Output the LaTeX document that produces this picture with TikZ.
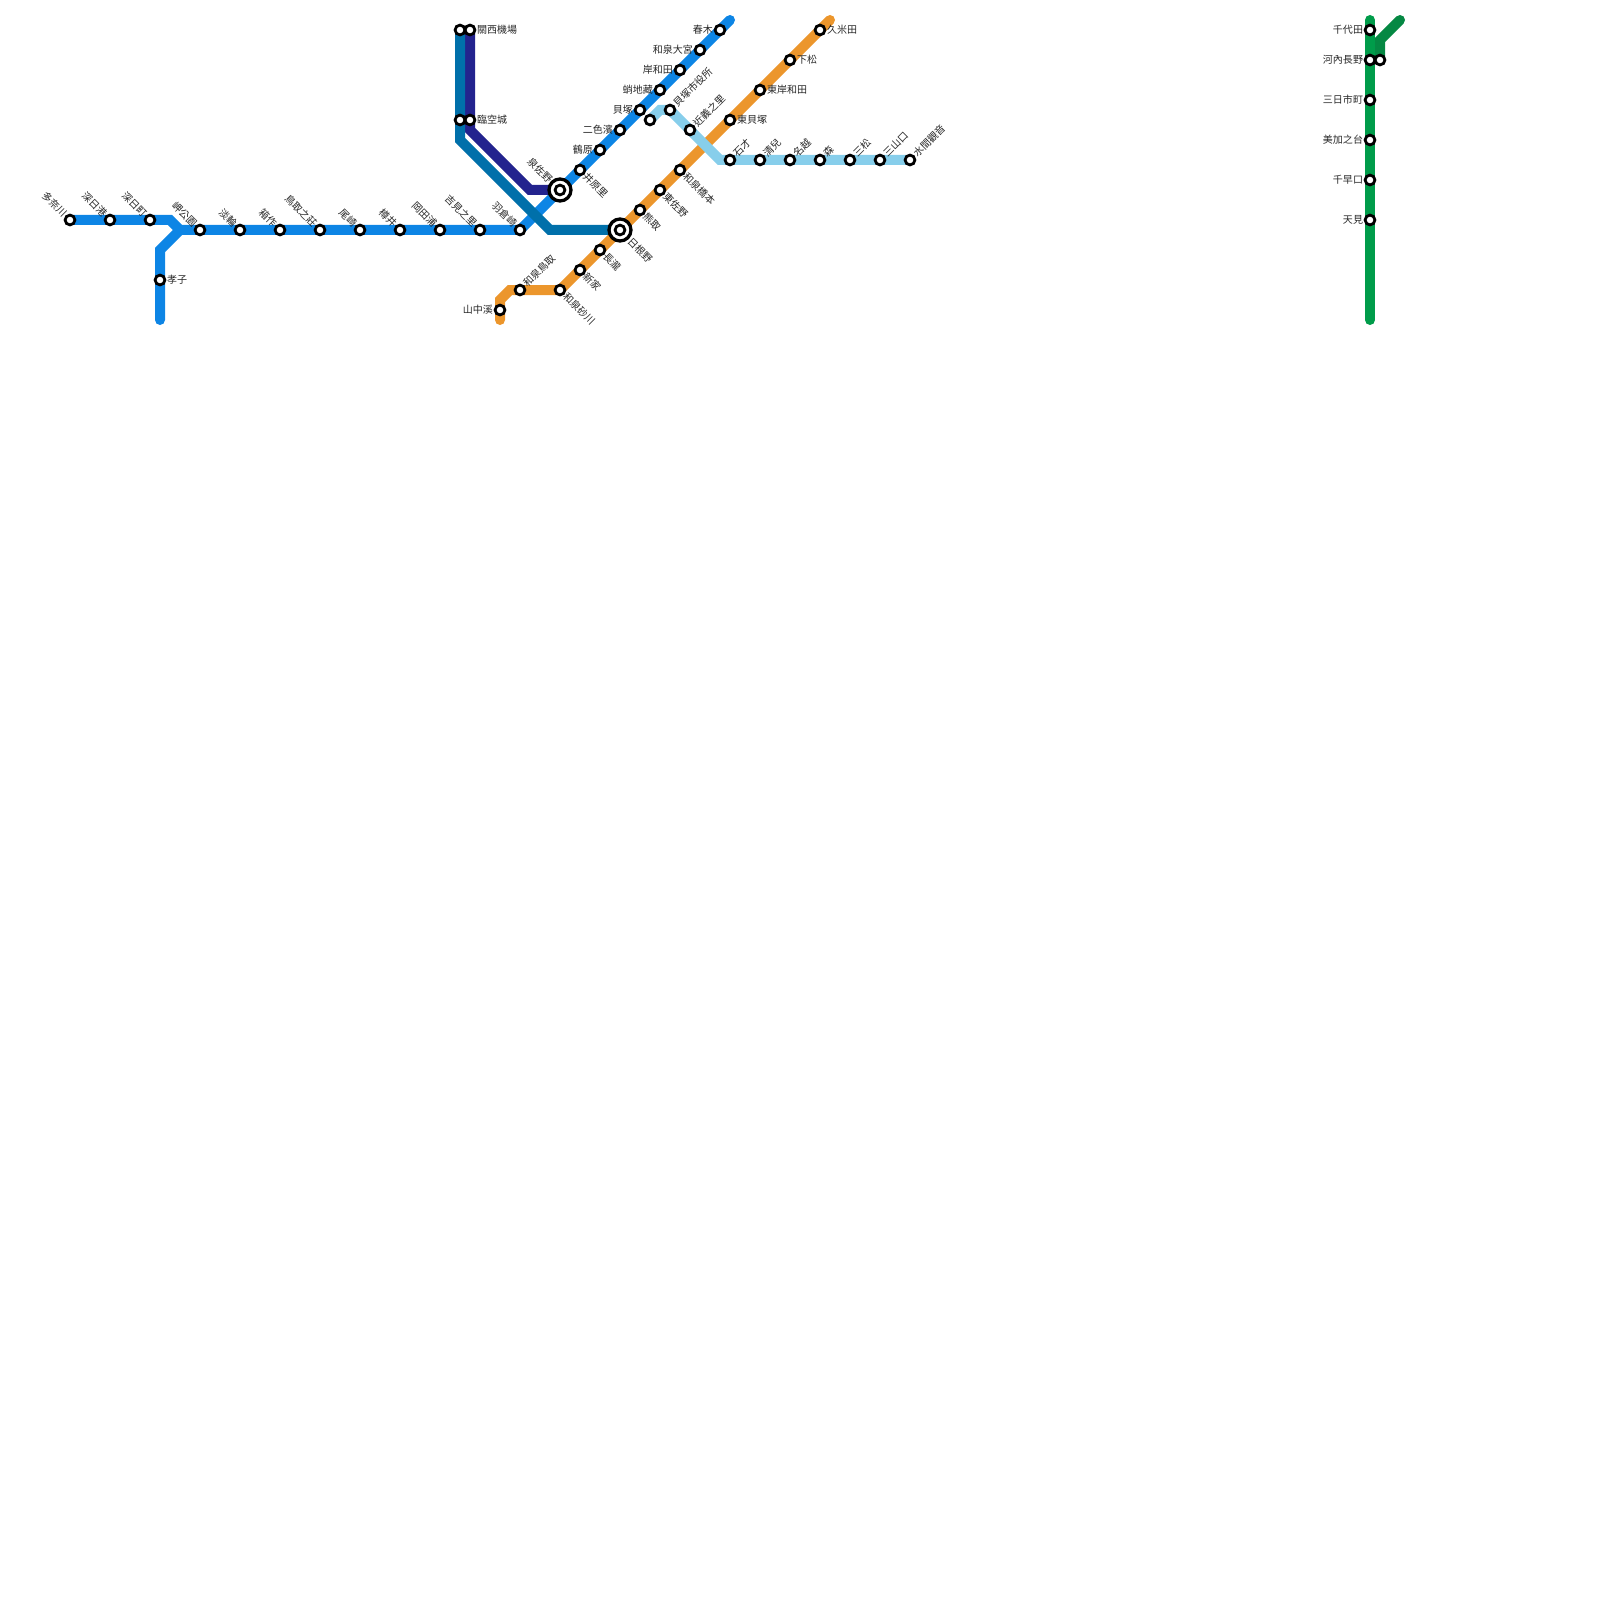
\documentclass[tikz,border=0pt]{standalone}
\usepackage{fontspec}
\setmainfont{Noto Sans CJK TC}
\usetikzlibrary{backgrounds}
\definecolor{nankaiblue}{HTML}{0D85E5}
\definecolor{airportblue}{HTML}{0070AA}
\definecolor{rapitnavy}{HTML}{23238E}
\definecolor{hanwaorange}{HTML}{EC962C}
\definecolor{mizuma}{HTML}{87CEEB}
\definecolor{koyagreen}{HTML}{009C4A}
\definecolor{koyadark}{HTML}{058843}
\tikzset{
  route/.style={line width=1mm,line cap=round},
  stn/.style={circle,draw=black,fill=white,line width=0.28mm,inner sep=0pt,minimum size=0.98mm},
  hub/.style={circle,draw=black,fill=white,line width=0.33mm,inner sep=0pt,minimum size=2.2mm,label distance=0.25mm},
  lab/.style={inner sep=0pt,text=black!85,font=\fontsize{2.85pt}{3pt}\selectfont},
  lbe/.style={lab,anchor=west},
  lbw/.style={lab,anchor=east},
  lbne/.style={lab,rotate=45,anchor=west},
  lbnw/.style={lab,rotate=-45,anchor=east},
  lbse/.style={lab,rotate=-45,anchor=west}
}
\begin{document}
\begin{tikzpicture}[x=1mm,y=-1mm]
\useasboundingbox (0,0) rectangle (160,160);
\node[stn,label={[lbnw]135:多奈川}] (tanagawa) at (7,22) {};
\node[stn,label={[lbnw]135:深日港}] (fukekou) at (11,22) {};
\node[stn,label={[lbnw]135:深日町}] (fukemachi) at (15,22) {};
\node[stn,label={[lbnw]135:岬公園}] (misaki) at (20,23) {};
\node[stn,label={[lbnw]135:淡輪}] (tannowa) at (24,23) {};
\node[stn,label={[lbnw]135:箱作}] (hakotsukuri) at (28,23) {};
\node[stn,label={[lbnw]135:鳥取之莊}] (tottorinosho) at (32,23) {};
\node[stn,label={[lbnw]135:尾崎}] (ozaki) at (36,23) {};
\node[stn,label={[lbnw]135:樽井}] (tarui) at (40,23) {};
\node[stn,label={[lbnw]135:岡田浦}] (okadaura) at (44,23) {};
\node[stn,label={[lbnw]135:吉見之里}] (yoshiminosato) at (48,23) {};
\node[stn,label={[lbnw]135:羽倉崎}] (hagurazaki) at (52,23) {};
\node[stn,label={[lbe]0:孝子}] (kyoshi) at (16,28) {};
\node[hub,label={[lbnw]135:泉佐野}] (izumisano) at (56,19) {};
\node[stn] (izumisanoin) at (izumisano) {};
\node[stn,label={[lbse]-45:井原里}] (iharanosato) at (58,17) {};
\node[stn,label={[lbw]180:鶴原}] (tsuruhara) at (60,15) {};
\node[stn,label={[lbw]180:二色濱}] (nishikinohama) at (62,13) {};
\node[stn,label={[lbw]180:貝塚}] (kaizuka) at (64,11) {};
\node[stn,label={[lbw]180:蛸地藏}] (takojizo) at (66,9) {};
\node[stn,label={[lbw]180:岸和田}] (kishiwada) at (68,7) {};
\node[stn,label={[lbw]180:和泉大宮}] (izumiomiya) at (70,5) {};
\node[stn,label={[lbw]180:春木}] (haruki) at (72,3) {};
\node[stn] (kansaiA) at (46,3) {};
\node[stn,label={[lbe]0:關西機場}] (kansaiB) at (47,3) {};
\node[stn] (rinkuA) at (46,12) {};
\node[stn,label={[lbe]0:臨空城}] (rinkuB) at (47,12) {};
\node[stn,label={[lbw]180:山中溪}] (yamanakadani) at (50,31) {};
\node[stn,label={[lbne]45:和泉鳥取}] (izumitottori) at (52,29) {};
\node[stn,label={[lbse]-45:和泉砂川}] (izumisunagawa) at (56,29) {};
\node[stn,label={[lbse]-45:新家}] (shinge) at (58,27) {};
\node[stn,label={[lbse]-45:長瀧}] (nagataki) at (60,25) {};
\node[hub,label={[lbse]-45:日根野}] (hineno) at (62,23) {};
\node[stn] (hinenoin) at (hineno) {};
\node[stn,label={[lbse]-45:熊取}] (kumatori) at (64,21) {};
\node[stn,label={[lbse]-45:東佐野}] (higashisano) at (66,19) {};
\node[stn,label={[lbse]-45:和泉橋本}] (izumihashimoto) at (68,17) {};
\node[stn,label={[lbe]0:東貝塚}] (higashikaizuka) at (73,12) {};
\node[stn,label={[lbe]0:東岸和田}] (higashikishiwada) at (76,9) {};
\node[stn,label={[lbe]0:下松}] (shimomatsu) at (79,6) {};
\node[stn,label={[lbe]0:久米田}] (kumeda) at (82,3) {};
\node[stn] (kaizukaB) at (65,12) {};
\node[stn,label={[lbne]45:貝塚市役所}] (shiyakusho) at (67,11) {};
\node[stn,label={[lbne]45:近義之里}] (konominosato) at (69,13) {};
\node[stn,label={[lbne]45:石才}] (ishizai) at (73,16) {};
\node[stn,label={[lbne]45:清兒}] (seiji) at (76,16) {};
\node[stn,label={[lbne]45:名越}] (nagoshi) at (79,16) {};
\node[stn,label={[lbne]45:森}] (mori) at (82,16) {};
\node[stn,label={[lbne]45:三松}] (mitsumatsu) at (85,16) {};
\node[stn,label={[lbne]45:三山口}] (mitsuyamaguchi) at (88,16) {};
\node[stn,label={[lbne]45:水間觀音}] (mizumakannon) at (91,16) {};
\node[stn,label={[lbw]180:千代田}] (chiyoda) at (137,3) {};
\node[stn,label={[lbw]180:河內長野}] (kawachinagano) at (137,6) {};
\node[stn] (nagano) at (138,6) {};
\node[stn,label={[lbw]180:三日市町}] (mikkaichi) at (137,10) {};
\node[stn,label={[lbw]180:美加之台}] (mikanodai) at (137,14) {};
\node[stn,label={[lbw]180:千早口}] (chihayaguchi) at (137,18) {};
\node[stn,label={[lbw]180:天見}] (amami) at (137,22) {};
\coordinate (blueA) at (17,22);
\coordinate (blueB) at (18,23);
\coordinate (blueC) at (16,25);
\coordinate (blueEnd) at (16,32);
\coordinate (blueTop) at (73,2);
\coordinate (tealA) at (46,14);
\coordinate (tealB) at (55,23);
\coordinate (navyA) at (47,13);
\coordinate (navyB) at (53,19);
\coordinate (orangeEnd) at (50,32);
\coordinate (orangeA) at (50,30);
\coordinate (orangeB) at (51,29);
\coordinate (orangeTop) at (83,2);
\coordinate (skyA) at (66,11);
\coordinate (skyB) at (72,16);
\coordinate (greenTop) at (137,2);
\coordinate (greenEnd) at (137,32);
\coordinate (darkA) at (138,4);
\coordinate (darkTop) at (140,2);
\begin{scope}[on background layer]
\draw[route,rapitnavy] (kansaiB.center) -- (navyA) -- (navyB) -- (izumisano.center);
\draw[route,nankaiblue] (tanagawa.center) -- (blueA) -- (blueB) -- (hagurazaki.center) -- (blueTop);
\draw[route,nankaiblue] (blueB) -- (blueC) -- (blueEnd);
\draw[route,airportblue] (kansaiA.center) -- (tealA) -- (tealB) -- (hineno.center);
\draw[route,hanwaorange] (orangeEnd) -- (orangeA) -- (orangeB) -- (izumisunagawa.center) -- (orangeTop);
\draw[route,mizuma] (kaizukaB.center) -- (skyA) -- (shiyakusho.center) -- (skyB) -- (mizumakannon.center);
\draw[route,koyagreen] (greenTop) -- (greenEnd);
\draw[route,koyadark] (darkTop) -- (darkA) -- (nagano.center);
\end{scope}
\end{tikzpicture}
\end{document}
